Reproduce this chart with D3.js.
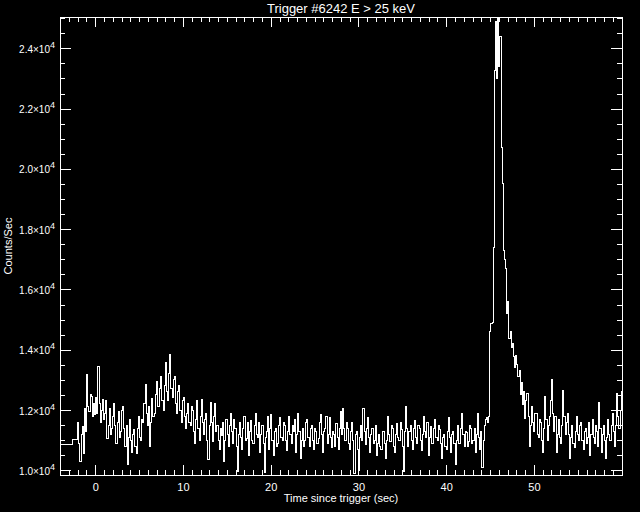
<!DOCTYPE html>
<html>
<head>
<meta charset="utf-8">
<script src="https://cdn.jsdelivr.net/npm/d3@7"></script>
<style>
  body { margin: 0; background: #000; }
  text { fill: #fff; font-family: "Liberation Sans", "DejaVu Sans", sans-serif; }
  path, line { shape-rendering: crispEdges; }
</style>
</head>
<body>
<div id="chart"></div>
<script>
// pre-trigger coarse steps (start time, counts)
const preTimes = [-4.096, -2.56];
const preCounts = [10860, 11030];

// fine bins start at -2.0 s, 0.128 s wide (16 bins per row)
const binStart = -2.0, binWidth = 0.128;
const counts = [
  11600, 10900, 10300, 11200, 11450, 10550, 12050, 11300, 13190, 12100, 11950, 12500, 12450, 11800, 12200, 11850,
  12400, 11900, 13450, 12200, 11600, 12000, 12350, 11700, 11900, 12300, 11050, 11500, 12050, 11200, 11400, 11800,
  12200, 11500, 10900, 11600, 11950, 11100, 11300, 12000, 12100, 11400, 10800, 11500, 10200, 11100, 11700, 11000,
  10600, 11200, 11350, 10800, 10550, 11400, 11800, 11100, 11000, 11700, 11600, 12200, 12830, 11900, 11500, 12100,
  10800, 11600, 12390, 11800, 11900, 12500, 12940, 12100, 12100, 12700, 13100, 12300, 12000, 12800, 13560, 12600,
  12300, 13200, 13830, 12700, 12400, 13000, 13110, 12200, 11900, 12600, 12800, 12000, 11600, 12300, 12400, 11800,
  11400, 11900, 12200, 11600, 11500, 12100, 12000, 11300, 10900, 11700, 12300, 11400, 11000, 11800, 12350, 11600,
  11200, 11700, 11900, 11000, 10350, 11500, 12250, 11600, 10950, 11800, 12200, 11300, 11500, 11000, 10700, 11400,
  11150, 11600, 10300, 11000, 11700, 11200, 10800, 11500, 11900, 11300, 10900, 11700, 11400, 10800, 9950, 11200,
  11600, 11100, 10700, 11400, 11800, 11000, 11050, 11600, 10500, 11300, 11650, 11000, 10900, 11500, 11900, 11200,
  11100, 11600, 10600, 11200, 11500, 10900, 9920, 11100, 11300, 11800, 10700, 11400, 11850, 11000, 10500, 11300,
  11400, 10800, 10900, 11500, 11750, 11100, 11000, 11600, 11500, 11000, 10650, 11300, 11800, 11200, 10900, 11500,
  11300, 11700, 10600, 11200, 11900, 11300, 10400, 11000, 11400, 10800, 11000, 11600, 11700, 11100, 10800, 11400,
  11500, 11000, 10700, 11400, 11300, 10900, 11050, 11600, 11850, 11200, 10600, 11300, 11400, 11800, 10900, 11200,
  11750, 11100, 10750, 11300, 11200, 10800, 11550, 11100, 10700, 11400, 11950, 11200, 12050, 11400, 11000, 11600,
  11400, 10900, 10700, 11300, 11600, 11000, 9900, 11200, 11300, 10700, 10000, 11100, 11500, 11000, 12050, 11300,
  10850, 11400, 11750, 11100, 10600, 11200, 11400, 10900, 11000, 11500, 10500, 10900, 11200, 10800, 10700, 11300,
  11300, 10900, 10400, 11000, 11800, 11200, 10950, 11500, 11400, 10800, 10600, 11200, 11550, 11100, 11000, 11600,
  11350, 10800, 9950, 11300, 12100, 11400, 10800, 11300, 11500, 11000, 10700, 11400, 11650, 11100, 10900, 11500,
  11400, 11000, 10650, 11200, 11800, 11300, 11100, 11600, 10500, 11100, 11450, 10900, 10900, 11400, 11700, 11100,
  11000, 11500, 11350, 10900, 10400, 11100, 11200, 10800, 10700, 11300, 11750, 11100, 10600, 11200, 11300, 10900,
  10200, 11000, 11500, 10900, 10900, 11400, 11900, 11200, 10800, 11300, 11250, 10800, 10950, 11500, 11400, 10900,
  11000, 11400, 10600, 11200, 11900, 11100, 10700, 11300, 10100, 11000, 11500, 11700, 11750, 11600, 11800, 14600,
  14880, 14900, 17400, 23250, 24900, 23000, 25000, 23400, 24400, 20700, 19500, 17300, 17000, 16700, 15200, 15600,
  14380, 14600, 14090, 14200, 13780, 13400, 13800, 13510, 13110, 13300, 12510, 12900, 12180, 12600, 11710, 12300,
  12550, 11800, 10800, 11500, 12100, 11600, 11300, 11900, 11900, 11200, 11100, 11700, 11600, 11000, 10600, 11400,
  12450, 11700, 11000, 11500, 11800, 12300, 13000, 11900, 11300, 11800, 10600, 11200, 11700, 11100, 10900, 11500,
  12650, 11800, 11200, 11600, 11900, 11200, 10400, 11100, 11500, 10900, 10750, 11300, 11800, 11200, 11000, 11500,
  11600, 11000, 10700, 11300, 11400, 10900, 11100, 11600, 10500, 11200, 11700, 11100, 10900, 11500, 11300, 10800,
  12250, 11400, 10600, 11200, 11500, 11000, 10400, 11100, 11700, 11200, 11000, 11500, 11900, 11300, 10800, 11500,
  12550, 11800, 11400, 12000, 12600
];

const xTickValues = [0, 10, 20, 30, 40, 50];
const yTickValues = [10000, 12000, 14000, 16000, 18000, 20000, 22000, 24000];

const width = 640, height = 512;
const margin = { top: 17, right: 18, bottom: 37, left: 60 };

const svg = d3.select("#chart").append("svg")
  .attr("width", width).attr("height", height)
  .style("background", "#000");

const x = d3.scaleLinear().domain([-4.02, 60.04]).range([margin.left, width - margin.right]);
const y = d3.scaleLinear().domain([9844, 25038]).range([height - margin.bottom, margin.top]);

// build step points
let pts = preTimes.map((t, i) => [t, preCounts[i]]);
counts.forEach((c, i) => pts.push([binStart + i * binWidth, c]));
pts.push([binStart + counts.length * binWidth, counts[counts.length - 1]]);

svg.append("clipPath").attr("id", "clip")
  .append("rect")
  .attr("x", margin.left).attr("y", margin.top)
  .attr("width", width - margin.left - margin.right)
  .attr("height", height - margin.top - margin.bottom);

const line = d3.line()
  .x(d => x(d[0]))
  .y(d => y(d[1]))
  .curve(d3.curveStepAfter);

svg.append("path")
  .datum(pts)
  .attr("clip-path", "url(#clip)")
  .attr("fill", "none")
  .attr("stroke", "#fff")
  .attr("stroke-width", 1)
  .attr("d", line);

// axes on all four sides, ticks pointing inward
const xMinor = d3.range(-4, 61, 1).filter(v => v % 10 !== 0);
const yMinor = d3.range(10000, 25001, 500).filter(v => v % 2000 !== 0);

function drawX(yPos, dir, labels) {
  const g = svg.append("g").attr("transform", `translate(0,${yPos})`);
  const major = g.append("g").call(d3.axisBottom(x).tickValues(xTickValues).tickSizeInner(dir * 10).tickSizeOuter(0)
    .tickFormat(labels ? d3.format("d") : ""));
  g.append("g").call(d3.axisBottom(x).tickValues(xMinor).tickSizeInner(dir * 5).tickSizeOuter(0).tickFormat(""))
    .select(".domain").remove();
  g.selectAll("path,line").attr("stroke", "#fff");
  major.selectAll("text").attr("font-size", 11).attr("dy", null).attr("y", 16);
}
function drawY(xPos, dir, labels) {
  const g = svg.append("g").attr("transform", `translate(${xPos},0)`);
  const major = g.append("g").call(d3.axisLeft(y).tickValues(yTickValues).tickSizeInner(dir * 11).tickSizeOuter(0)
    .tickFormat(""));
  g.append("g").call(d3.axisLeft(y).tickValues(yMinor).tickSizeInner(dir * 5).tickSizeOuter(0).tickFormat(""))
    .select(".domain").remove();
  g.selectAll("path,line").attr("stroke", "#fff");
  if (labels) {
    major.selectAll(".tick text").each(function(d) {
      const t = d3.select(this).text("").attr("font-size", 10).attr("x", -5).attr("dy", "0.4em");
      t.append("tspan").text((d / 10000).toFixed(1) + "\u00d710");
      t.append("tspan").attr("dy", -5).attr("font-size", 9).text("4");
    });
  }
}
drawX(height - margin.bottom, -1, true);
drawX(margin.top, 1, false);
drawY(margin.left, -1, true);
drawY(width - margin.right, 1, false);

// titles
svg.append("text")
  .attr("x", (margin.left + width - margin.right) / 2).attr("y", 13)
  .attr("text-anchor", "middle").attr("font-size", 13)
  .text("Trigger #6242 E > 25 keV");

svg.append("text")
  .attr("x", (margin.left + width - margin.right) / 2).attr("y", 502)
  .attr("text-anchor", "middle").attr("font-size", 11)
  .text("Time since trigger (sec)");

svg.append("text")
  .attr("transform", `translate(12,${(margin.top + height - margin.bottom) / 2}) rotate(-90)`)
  .attr("text-anchor", "middle").attr("font-size", 11)
  .text("Counts/Sec");
</script>
</body>
</html>
